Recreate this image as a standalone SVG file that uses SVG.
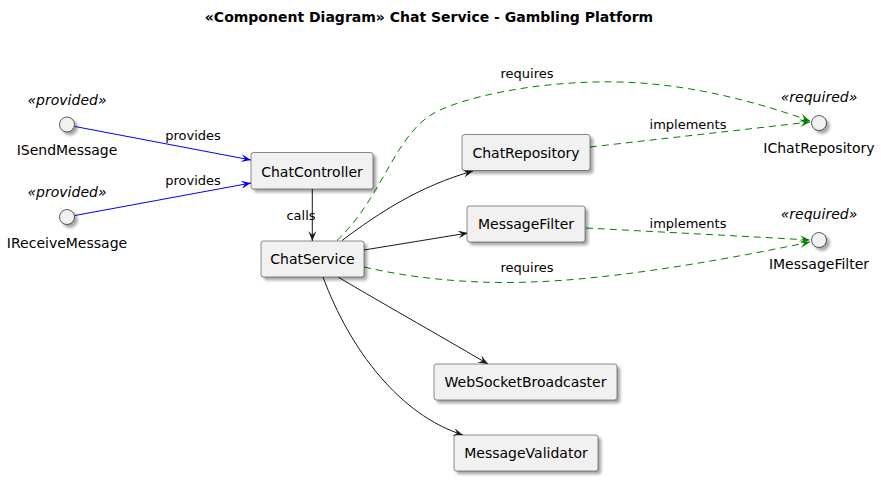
<svg xmlns="http://www.w3.org/2000/svg" width="881" height="482" viewBox="0 0 881 482">
<style>
  text { font-family: "DejaVu Sans", sans-serif; fill: #000; }
  .title { font-size: 14px; font-weight: bold; text-anchor: middle; }
  .comp rect { fill: #F1F1F1; stroke: #181818; stroke-width: 0.5; filter: url(#shadow); }
  .comp text { font-size: 14px; text-anchor: middle; }
  .iface circle { fill: #F1F1F1; stroke: #181818; stroke-width: 0.7; filter: url(#shadow); }
  .iface text { font-size: 14px; text-anchor: middle; }
  .iface .st { font-style: italic; }
  .lbl { font-size: 13px; text-anchor: middle; }
  .e { fill: none; stroke-width: 1; }
  .blk { stroke: #181818; marker-end: url(#ab); }
  .blu { stroke: #0000FF; marker-end: url(#au); }
  .grn { stroke: #008000; stroke-dasharray: 7,5; marker-end: url(#ag); }
</style>
<defs>
  <filter id="shadow" x="-20%" y="-20%" width="160%" height="160%">
    <feDropShadow dx="3" dy="3" stdDeviation="1.6" flood-color="#000" flood-opacity="0.35"/>
  </filter>
  <marker id="ab" markerWidth="12" markerHeight="10" refX="10" refY="4" orient="auto" markerUnits="userSpaceOnUse">
    <path d="M0,0 L10,4 L0,8 L4,4 Z" fill="#181818"/>
  </marker>
  <marker id="au" markerWidth="12" markerHeight="10" refX="10" refY="4" orient="auto" markerUnits="userSpaceOnUse">
    <path d="M0,0 L10,4 L0,8 L4,4 Z" fill="#0000FF"/>
  </marker>
  <marker id="ag" markerWidth="12" markerHeight="10" refX="10" refY="4" orient="auto" markerUnits="userSpaceOnUse">
    <path d="M0,0 L10,4 L0,8 L4,4 Z" fill="#008000"/>
  </marker>
</defs>

<text class="title" x="429" y="22">«Component Diagram» Chat Service - Gambling Platform</text>

<g id="connectors">
  <path class="e blu" d="M75,126.5 L251,160"/>
  <text class="lbl" x="193" y="140">provides</text>
  <path class="e blu" d="M75,215.5 L251,183"/>
  <text class="lbl" x="193" y="185">provides</text>
  <path class="e blk" d="M312.3,189 L312.3,241"/>
  <text class="lbl" x="301" y="220">calls</text>
  <path class="e blk" d="M342,240.5 C380,212 420,186 473,171"/>
  <path class="e blk" d="M364,250 L468,233"/>
  <path class="e blk" d="M338,277 C380,302 430,330 488,364"/>
  <path class="e blk" d="M323,277 C350,350 400,415 463,435"/>
  <path class="e grn" d="M337,240.5 C385,195 395,130 440,110 C485,90 570,78 640,83 C700,87 760,103 810,121"/>
  <text class="lbl" x="527" y="78">requires</text>
  <path class="e grn" d="M590,147 C660,139 740,130 810,122"/>
  <text class="lbl" x="688" y="129">implements</text>
  <path class="e grn" d="M586,228 C660,232 740,236 810,240"/>
  <text class="lbl" x="688" y="228">implements</text>
  <path class="e grn" d="M364,267 C420,280 480,284 530,282 C600,280 700,265 810,242"/>
  <text class="lbl" x="527" y="272">requires</text>
</g>

<g id="ISendMessage" class="iface">
  <text class="st" x="67" y="105">«provided»</text>
  <circle cx="67" cy="124.5" r="7.5"/>
  <text x="67" y="155">ISendMessage</text>
</g>
<g id="IReceiveMessage" class="iface">
  <text class="st" x="67" y="197">«provided»</text>
  <circle cx="67" cy="217" r="7.5"/>
  <text x="67" y="248">IReceiveMessage</text>
</g>
<g id="IChatRepository" class="iface">
  <text class="st" x="819" y="102">«required»</text>
  <circle cx="819" cy="123" r="7.5"/>
  <text x="819" y="153">IChatRepository</text>
</g>
<g id="IMessageFilter" class="iface">
  <text class="st" x="819" y="219">«required»</text>
  <circle cx="819" cy="240" r="7.5"/>
  <text x="819" y="269">IMessageFilter</text>
</g>

<g id="ChatController" class="comp">
  <rect x="251" y="152.5" width="122" height="36.5" rx="2.5"/>
  <text x="312" y="176.5">ChatController</text>
</g>
<g id="ChatService" class="comp">
  <rect x="261" y="241" width="103" height="36" rx="2.5"/>
  <text x="312.5" y="264">ChatService</text>
</g>
<g id="ChatRepository" class="comp">
  <rect x="462" y="134.5" width="128" height="36" rx="2.5"/>
  <text x="526" y="158">ChatRepository</text>
</g>
<g id="MessageFilter" class="comp">
  <rect x="467" y="206" width="118" height="36" rx="2.5"/>
  <text x="526" y="229">MessageFilter</text>
</g>
<g id="WebSocketBroadcaster" class="comp">
  <rect x="434" y="364" width="183" height="36" rx="2.5"/>
  <text x="525.5" y="387">WebSocketBroadcaster</text>
</g>
<g id="MessageValidator" class="comp">
  <rect x="454" y="435" width="144" height="36" rx="2.5"/>
  <text x="526" y="458">MessageValidator</text>
</g>
</svg>
